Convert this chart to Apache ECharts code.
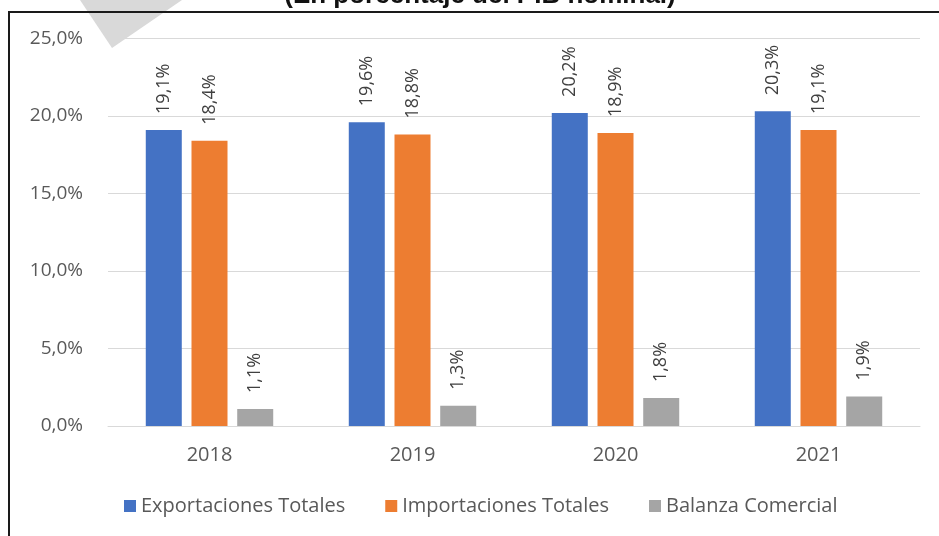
<!DOCTYPE html>
<html>
<head>
<meta charset="utf-8">
<script src="https://cdn.jsdelivr.net/npm/echarts@6/dist/echarts.min.js"></script>
<style>html,body{margin:0;padding:0;background:#fff;}#chart{width:939px;height:536px;}</style>
</head>
<body>
<div id="chart"></div>
<script>
const categories = ['2018', '2019', '2020', '2021'];
const exportaciones = [19.1, 19.6, 20.2, 20.3];
const importaciones = [18.4, 18.8, 18.9, 19.1];
const balanza = [1.1, 1.3, 1.8, 1.9];
const seriesNames = ['Exportaciones Totales', 'Importaciones Totales', 'Balanza Comercial'];
const titleText = '(En porcentaje del PIB nominal)';

const FONT = '"Open Sans", sans-serif';
const fmt = v => v.toFixed(1).replace('.', ',') + '%';

const chart = echarts.init(document.getElementById('chart'), null, {renderer: 'canvas'});
const labelCfg = {
  show: true, position: 'top', rotate: 90, align: 'left', verticalAlign: 'middle',
  distance: 16, color: '#404040', fontFamily: FONT, fontSize: 18,
  formatter: p => fmt(p.value)
};
const mk = (name, data, color) => ({
  name, type: 'bar', data, barWidth: 36, barGap: '27%',
  itemStyle: {color}, label: labelCfg
});
chart.setOption({
  backgroundColor: '#ffffff',
  animation: false,
  grid: {left: 108, right: 19, top: 38.5, bottom: 110, containLabel: false},
  legend: {
    data: seriesNames, left: 119, top: 491, itemWidth: 12, itemHeight: 12, itemGap: 40,
    icon: 'rect', textStyle: {color: '#595959', fontFamily: FONT, fontSize: 20}
  },
  xAxis: {
    type: 'category', data: categories,
    axisLine: {show: true, lineStyle: {color: '#d9d9d9', width: 1}},
    axisTick: {show: false},
    axisLabel: {color: '#595959', fontFamily: FONT, fontSize: 20, margin: 19}
  },
  yAxis: {
    type: 'value', min: 0, max: 25, interval: 5,
    axisLine: {show: false}, axisTick: {show: false},
    splitLine: {lineStyle: {color: '#d9d9d9', width: 1}},
    axisLabel: {color: '#595959', fontFamily: FONT, fontSize: 19, margin: 25, formatter: v => fmt(v)}
  },
  series: [
    mk(seriesNames[0], exportaciones, '#4472c4'),
    mk(seriesNames[1], importaciones, '#ed7d31'),
    mk(seriesNames[2], balanza, '#a5a5a5')
  ],
  graphic: [
    {type: 'polygon', z: 10, shape: {points: [[80, 0], [182, 0], [112, 48]]}, style: {fill: '#d9d9d9'}},
    {type: 'rect', z: 20, shape: {x: 9, y: 12, width: 940, height: 540}, style: {fill: null, stroke: '#1a1a1a', lineWidth: 2}},
    {type: 'text', z: 20, x: 480, y: -4, style: {text: titleText, fill: '#111', font: 'bold 26px "Liberation Sans", Arial, sans-serif', textAlign: 'center', textVerticalAlign: 'middle'}}
  ]
});
</script>
</body>
</html>
